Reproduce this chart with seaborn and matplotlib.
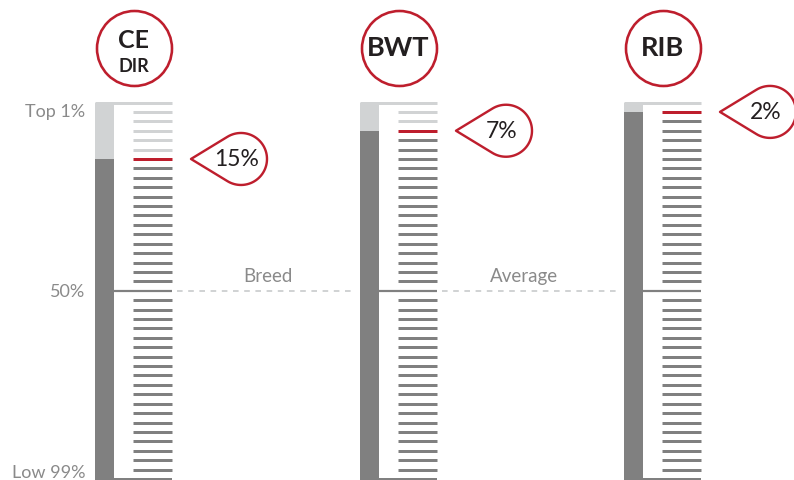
import numpy as np
import matplotlib.pyplot as plt
import seaborn as sns
from matplotlib.path import Path
from matplotlib.patches import PathPatch

# Chart data
traits = [["CE", "DIR"], ["BWT"], ["RIB"]]
percentiles = [15, 7, 2]
scale_labels = ["Top 1%", "50%", "Low 99%"]
mid_labels = ["Breed", "Average"]

RED = "#be1e2d"
DARK = "#808080"
LIGHT = "#d1d3d4"
TXT = "#231f20"
GREY_TXT = "#8a8a8a"

sns.set_style("white")
plt.rcParams['font.family'] = ['Lato', 'DejaVu Sans']

W, H = 794, 481
fig = plt.figure(figsize=(W / 100, H / 100), dpi=100)

# axes: x in pixels, y in percentile (0 at top line, 100 at bottom line)
top_px, bot_px = 103.5, 480
ax = fig.add_axes([0, (H - bot_px) / H, 1, (bot_px - top_px) / H])
ax.set_xlim(0, W)
ax.set_ylim(100, 0)
ax.axis('off')
ppp = (bot_px - top_px) / 100  # pixels per percentile point

col_left = [95, 360, 624]
bar_w = 19
tick_x0, tick_x1 = 38, 77
step = 2.5
levels = np.arange(step, 100, step)
pt = 0.72  # points per pixel

for i, (name, p) in enumerate(zip(traits, percentiles)):
    x0 = col_left[i]
    mark = np.ceil(p / step) * step

    # bar: light above the mark, dark below
    ax.bar(x0, mark, width=bar_w, bottom=0, align='edge', color=LIGHT,
           linewidth=0, clip_on=False)
    ax.bar(x0, 100.3 - mark, width=bar_w, bottom=mark, align='edge',
           color=DARK, linewidth=0, clip_on=False)

    # ladder ticks
    short = [l for l in levels if l != 50]
    cols = [LIGHT if l < mark else (RED if l == mark else DARK) for l in short]
    ax.hlines(short, x0 + tick_x0, x0 + tick_x1, colors=cols, linewidth=3 * pt)
    ax.hlines(0, x0, x0 + tick_x1, colors=LIGHT, linewidth=3 * pt, clip_on=False)
    ax.hlines(50, x0 + bar_w, x0 + tick_x1, colors=DARK, linewidth=2.2 * pt)
    ax.hlines(100, x0 + bar_w, x0 + tick_x1, colors=DARK, linewidth=2 * pt,
              clip_on=False)

    # header circle
    cx = x0 + 38.5
    cy = -(top_px - 48.5) / ppp
    ax.scatter([cx], [cy], s=(75 * pt) ** 2, facecolor='white', edgecolor=RED,
               linewidth=2.6 * pt, clip_on=False, zorder=3)
    if len(name) == 2:
        ax.text(cx, -(top_px - 40) / ppp, name[0], ha='center', va='center',
                fontsize=18, fontweight='bold', color=TXT, zorder=4)
        ax.text(cx, -(top_px - 67) / ppp, name[1], ha='center', va='center',
                fontsize=13, fontweight='bold', color=TXT, zorder=4)
    else:
        ax.text(cx, -(top_px - 48.5) / ppp, name[0], ha='center', va='center',
                fontsize=19.5, fontweight='bold', color=TXT, zorder=4)

    # teardrop callout pointing at the mark
    tip = x0 + 96
    d, r = 50, 26
    a = np.degrees(np.arcsin(r / d))
    ang = np.radians(np.linspace(180 - (90 - a), -(180 - (90 - a)), 60))
    sx = np.concatenate([[0], d + r * np.cos(ang), [0]])
    sy = np.concatenate([[0], r * np.sin(ang), [0]])
    verts = np.column_stack([tip + sx, mark - sy / ppp])
    codes = [Path.MOVETO] + [Path.LINETO] * (len(verts) - 2) + [Path.CLOSEPOLY]
    ax.add_patch(PathPatch(Path(verts, codes), facecolor='white', edgecolor=RED,
                           linewidth=2.4 * pt, joinstyle='round', clip_on=False,
                           zorder=3))
    ax.text(tip + 46, mark, f"{p}%", ha='center', va='center', fontsize=16.5,
            color=TXT, zorder=4)

# breed average dashed line
label_shift = [3, -5]
for j, lab in enumerate(mid_labels):
    xa = col_left[j] + tick_x1 + 5
    xb = col_left[j + 1] - 7
    ax.hlines(50, xa, xb, colors=LIGHT, linewidth=2 * pt,
              linestyles=(0, (2.8, 2.8)))
    ax.text((xa + xb) / 2 + label_shift[j], 50 - 15 / ppp, lab, ha='center',
            va='center', fontsize=13.5, color=GREY_TXT)

# scale labels on the left
ax.text(85, 0, scale_labels[0], ha='right', va='top', fontsize=13,
        color=GREY_TXT, clip_on=False)
ax.text(85, 50, scale_labels[1], ha='right', va='center', fontsize=13,
        color=GREY_TXT)
ax.text(85, 99.5, scale_labels[2], ha='right', va='baseline', fontsize=13,
        color=GREY_TXT, clip_on=False)

fig.savefig("out.png", dpi=100)
